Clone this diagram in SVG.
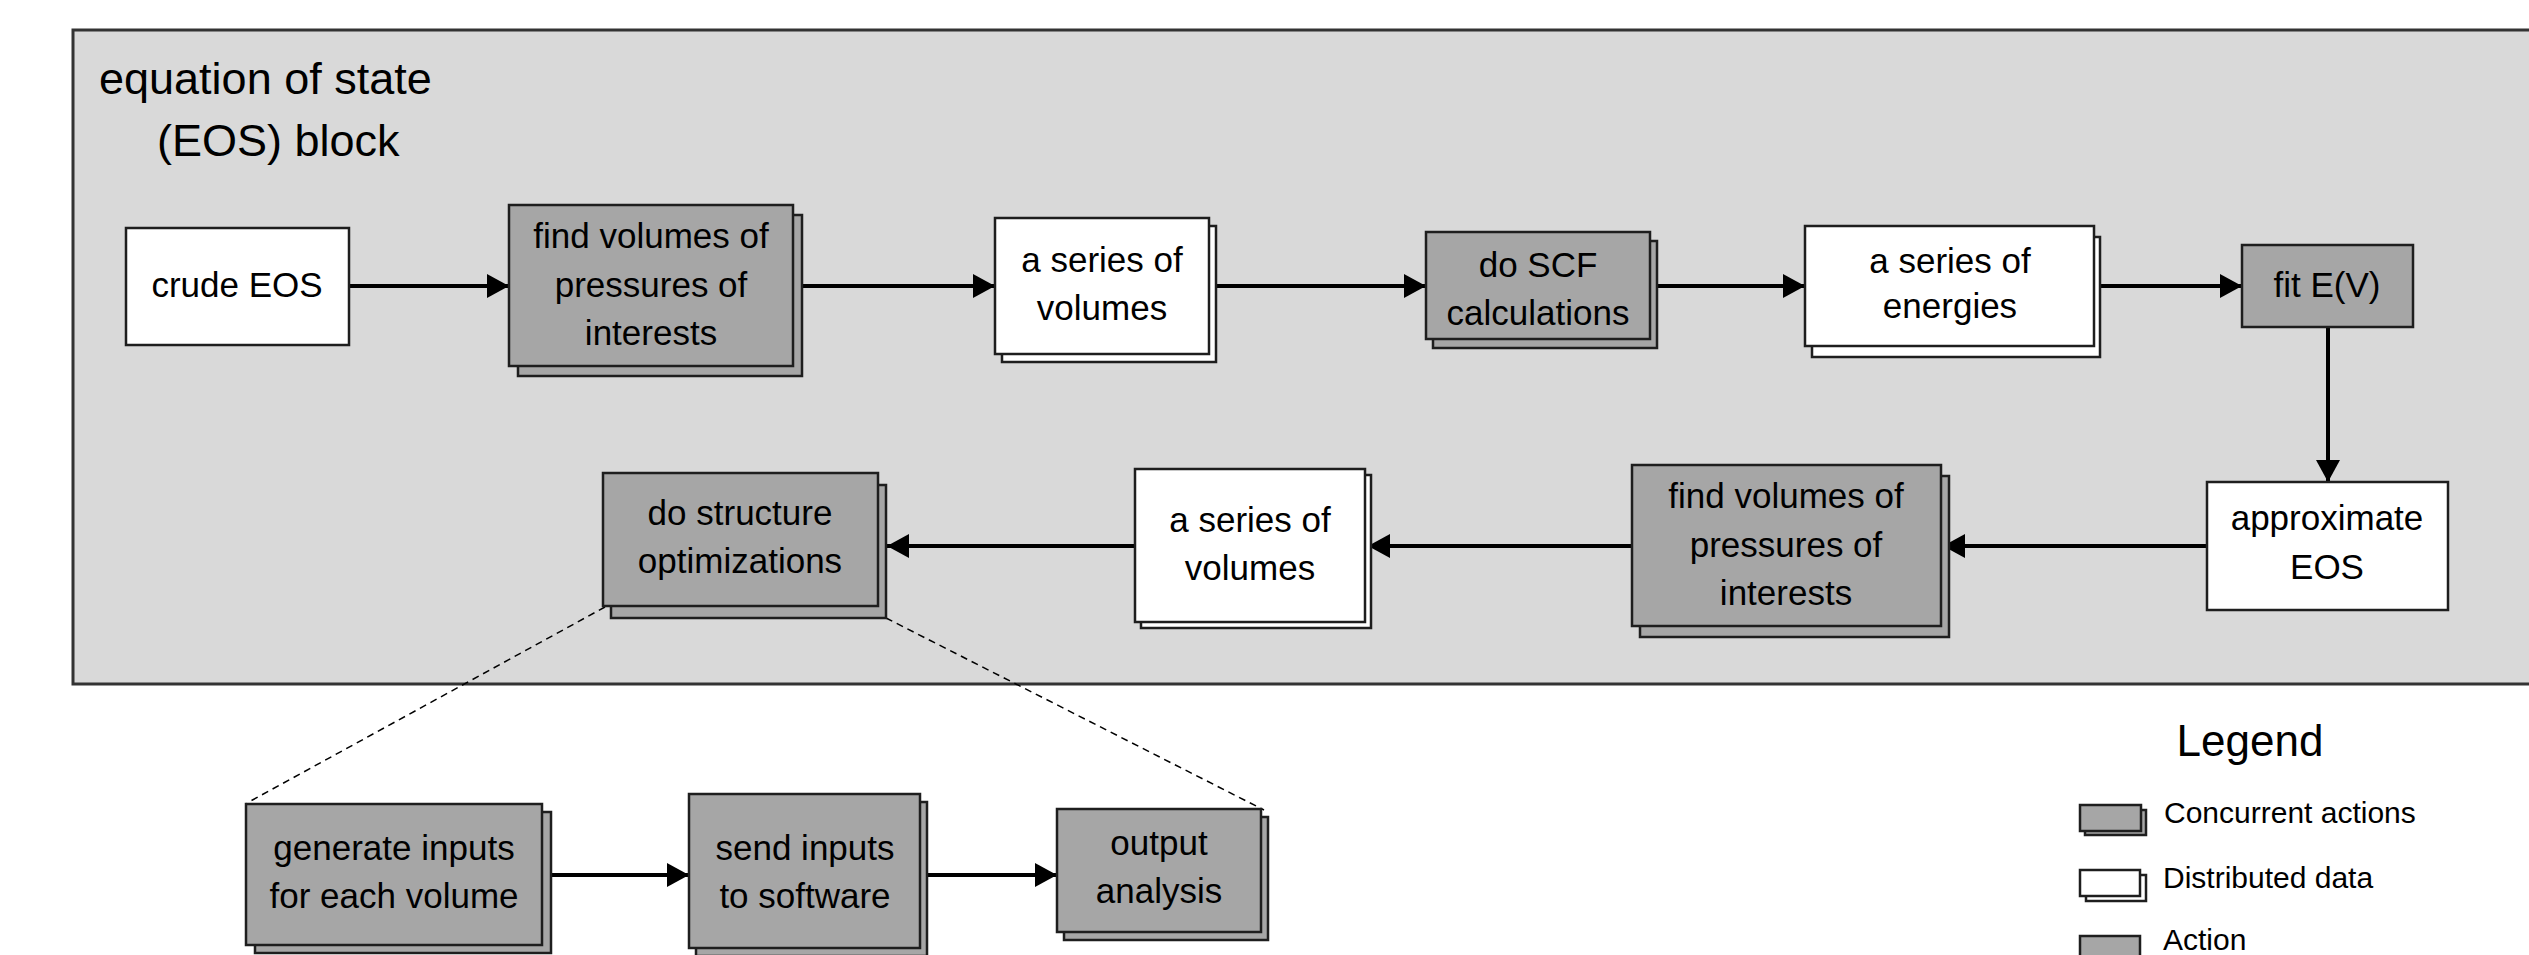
<svg xmlns="http://www.w3.org/2000/svg" width="2529" height="955" viewBox="0 0 2529 955">
<style>
text{font-family:"Liberation Sans",Arial,sans-serif;fill:#000;}
.t{font-size:35px;text-anchor:middle;}
.act{fill:#a6a6a6;stroke:#1e1e1e;stroke-width:2.5;}
.dat{fill:#ffffff;stroke:#1e1e1e;stroke-width:2.5;}
.conn{stroke:#000;stroke-width:4;fill:none;marker-end:url(#ah);}
.dash{stroke:#000;stroke-width:1.5;fill:none;stroke-dasharray:7 5;}
</style>
<defs>
<marker id="ah" markerUnits="userSpaceOnUse" markerWidth="22" markerHeight="24" refX="22" refY="12" orient="auto">
<path d="M0,0 L22,12 L0,24 Z" fill="#000"/>
</marker>
</defs>
<rect width="2529" height="955" fill="#ffffff"/>
<g id="eos-block">
<rect x="73" y="30" width="2500" height="654" fill="#d9d9d9" stroke="#333" stroke-width="3"/>
<text x="99" y="94" font-size="45">equation of state</text>
<text x="157" y="156" font-size="45">(EOS) block</text>
</g>
<g id="connectors">
<line class="conn" x1="349" y1="286" x2="509" y2="286"/>
<line class="conn" x1="793" y1="286" x2="995" y2="286"/>
<line class="conn" x1="1209" y1="286" x2="1426" y2="286"/>
<line class="conn" x1="1650" y1="286" x2="1805" y2="286"/>
<line class="conn" x1="2094" y1="286" x2="2242" y2="286"/>
<line class="conn" x1="2328" y1="327" x2="2328" y2="482"/>
<line class="conn" x1="2207" y1="546" x2="1943" y2="546"/>
<line class="conn" x1="1632" y1="546" x2="1368" y2="546"/>
<line class="conn" x1="1135" y1="546" x2="887" y2="546"/>
<line class="conn" x1="542" y1="875" x2="689" y2="875"/>
<line class="conn" x1="920" y1="875" x2="1057" y2="875"/>
<line class="dash" x1="605" y1="607" x2="247" y2="803"/>
<line class="dash" x1="886" y1="618" x2="1264" y2="810"/>
</g>
<g id="crude-eos">
<rect class="dat" x="126" y="228" width="223" height="117"/>
<text class="t" x="237" y="297">crude EOS</text>
</g>
<g id="find-volumes-1">
<rect class="act" x="518" y="215" width="284" height="161"/>
<rect class="act" x="509" y="205" width="284" height="161"/>
<text class="t" x="651" y="248">find volumes of</text>
<text class="t" x="651" y="297">pressures of</text>
<text class="t" x="651" y="345">interests</text>
</g>
<g id="series-volumes-1">
<rect class="dat" x="1002" y="226" width="214" height="136"/>
<rect class="dat" x="995" y="218" width="214" height="136"/>
<text class="t" x="1102" y="272">a series of</text>
<text class="t" x="1102" y="320">volumes</text>
</g>
<g id="do-scf">
<rect class="act" x="1433" y="241" width="224" height="107"/>
<rect class="act" x="1426" y="232" width="224" height="107"/>
<text class="t" x="1538" y="277">do SCF</text>
<text class="t" x="1538" y="325">calculations</text>
</g>
<g id="series-energies">
<rect class="dat" x="1812" y="237" width="288" height="120"/>
<rect class="dat" x="1805" y="226" width="289" height="120"/>
<text class="t" x="1950" y="273">a series of</text>
<text class="t" x="1950" y="318">energies</text>
</g>
<g id="fit-ev">
<rect class="act" x="2242" y="245" width="171" height="82"/>
<text class="t" x="2327" y="297">fit E(V)</text>
</g>
<g id="approximate-eos">
<rect class="dat" x="2207" y="482" width="241" height="128"/>
<text class="t" x="2327" y="530">approximate</text>
<text class="t" x="2327" y="579">EOS</text>
</g>
<g id="find-volumes-2">
<rect class="act" x="1640" y="476" width="309" height="161"/>
<rect class="act" x="1632" y="465" width="309" height="161"/>
<text class="t" x="1786" y="508">find volumes of</text>
<text class="t" x="1786" y="557">pressures of</text>
<text class="t" x="1786" y="605">interests</text>
</g>
<g id="series-volumes-2">
<rect class="dat" x="1141" y="475" width="230" height="153"/>
<rect class="dat" x="1135" y="469" width="230" height="153"/>
<text class="t" x="1250" y="532">a series of</text>
<text class="t" x="1250" y="580">volumes</text>
</g>
<g id="do-structure">
<rect class="act" x="611" y="485" width="275" height="133"/>
<rect class="act" x="603" y="473" width="275" height="133"/>
<text class="t" x="740" y="525">do structure</text>
<text class="t" x="740" y="573">optimizations</text>
</g>
<g id="generate-inputs">
<rect class="act" x="255" y="812" width="296" height="141"/>
<rect class="act" x="246" y="804" width="296" height="141"/>
<text class="t" x="394" y="860">generate inputs</text>
<text class="t" x="394" y="908">for each volume</text>
</g>
<g id="send-inputs">
<rect class="act" x="696" y="802" width="231" height="154"/>
<rect class="act" x="689" y="794" width="231" height="154"/>
<text class="t" x="805" y="860">send inputs</text>
<text class="t" x="805" y="908">to software</text>
</g>
<g id="output-analysis">
<rect class="act" x="1064" y="817" width="204" height="123"/>
<rect class="act" x="1057" y="809" width="204" height="123"/>
<text class="t" x="1159" y="855">output</text>
<text class="t" x="1159" y="903">analysis</text>
</g>
<g id="legend">
<text x="2250" y="756" font-size="44" text-anchor="middle">Legend</text>
<rect class="act" x="2085" y="810" width="61" height="25" stroke-width="2"/>
<rect class="act" x="2080" y="805" width="61" height="26" stroke-width="2"/>
<text x="2164" y="823" font-size="30">Concurrent actions</text>
<rect class="dat" x="2086" y="875" width="60" height="26" stroke-width="2"/>
<rect class="dat" x="2080" y="870" width="60" height="26" stroke-width="2"/>
<text x="2163" y="888" font-size="30">Distributed data</text>
<rect class="act" x="2080" y="936" width="60" height="30" stroke-width="2"/>
<text x="2163" y="950" font-size="30">Action</text>
</g>
</svg>
